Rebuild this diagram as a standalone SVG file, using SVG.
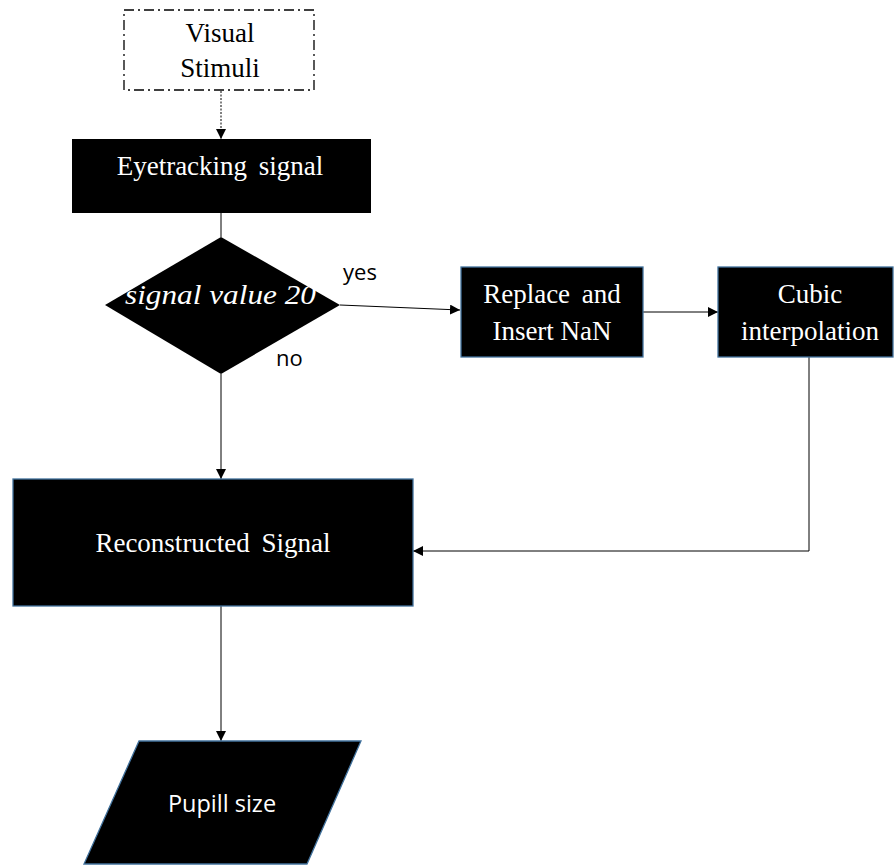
<svg xmlns="http://www.w3.org/2000/svg" width="896" height="865" viewBox="0 0 896 865">
<defs>
<marker id="ah" viewBox="0 0 10 10" refX="10" refY="5" markerWidth="10" markerHeight="10" markerUnits="userSpaceOnUse" orient="auto">
<path d="M0,0 L10,5 L0,10 z" fill="#000"/>
</marker>
<style>
.box{fill:#000;stroke:#41719C;stroke-width:1.3}
.t{font-family:"Liberation Serif","Times New Roman",serif;fill:#fff;font-size:27px;text-anchor:middle}
.s{font-family:"Open Sans","Noto Sans",sans-serif;font-size:22px;fill:#000}
.c{fill:none;stroke:#000;stroke-width:1}
</style>
</defs>
<rect width="896" height="865" fill="#fff"/>
<g id="connectors">
<line class="c" x1="221" y1="91" x2="221" y2="139" stroke-dasharray="2,1.5" marker-end="url(#ah)"/>
<line class="c" x1="221" y1="213" x2="221" y2="237"/>
<line class="c" x1="340" y1="305" x2="460" y2="310" marker-end="url(#ah)"/>
<line class="c" x1="643" y1="312" x2="718" y2="312" marker-end="url(#ah)"/>
<polyline class="c" points="809,357 809,551 413,551" stroke="#555" marker-end="url(#ah)"/>
<line class="c" x1="221" y1="374" x2="221" y2="479" marker-end="url(#ah)"/>
<line class="c" x1="221" y1="606" x2="221" y2="741" marker-end="url(#ah)"/>
</g>
<g id="visual-stimuli">
<rect x="124" y="10" width="190" height="80" fill="#fff" stroke="#000" stroke-width="1.3" stroke-dasharray="10,4,2,4"/>
<text class="t" x="220" y="42" style="fill:#000">Visual</text>
<text class="t" x="220" y="77" style="fill:#000">Stimuli</text>
</g>
<g id="eyetracking">
<rect x="72" y="139" width="299" height="74" fill="#000"/>
<text class="t" x="220" y="175" word-spacing="5">Eyetracking signal</text>
</g>
<g id="decision">
<polygon points="221,237 340,305 221,374 105,305" fill="#000"/>
<text x="125" y="304" font-family="'Liberation Serif',serif" font-style="italic" font-size="27" fill="#fff" textLength="191" lengthAdjust="spacingAndGlyphs">signal value 20</text>
<text class="s" x="343" y="280">yes</text>
<text class="s" x="276" y="366">no</text>
</g>
<g id="replace">
<rect class="box" x="461" y="267" width="182" height="90"/>
<text class="t" x="552" y="303" word-spacing="5">Replace and</text>
<text class="t" x="552" y="340">Insert NaN</text>
</g>
<g id="cubic">
<rect class="box" x="718" y="267" width="175" height="90"/>
<text class="t" x="810" y="303">Cubic</text>
<text class="t" x="810" y="340">interpolation</text>
</g>
<g id="reconstructed">
<rect class="box" x="13" y="479" width="400" height="127"/>
<text class="t" x="213" y="552" word-spacing="5">Reconstructed Signal</text>
</g>
<g id="pupil">
<polygon class="box" points="139,741 361,741 307,864 84,864"/>
<text x="222" y="812" text-anchor="middle" font-family="'Open Sans','Noto Sans',sans-serif" font-size="23.5" fill="#fff">Pupill size</text>
</g>
</svg>
